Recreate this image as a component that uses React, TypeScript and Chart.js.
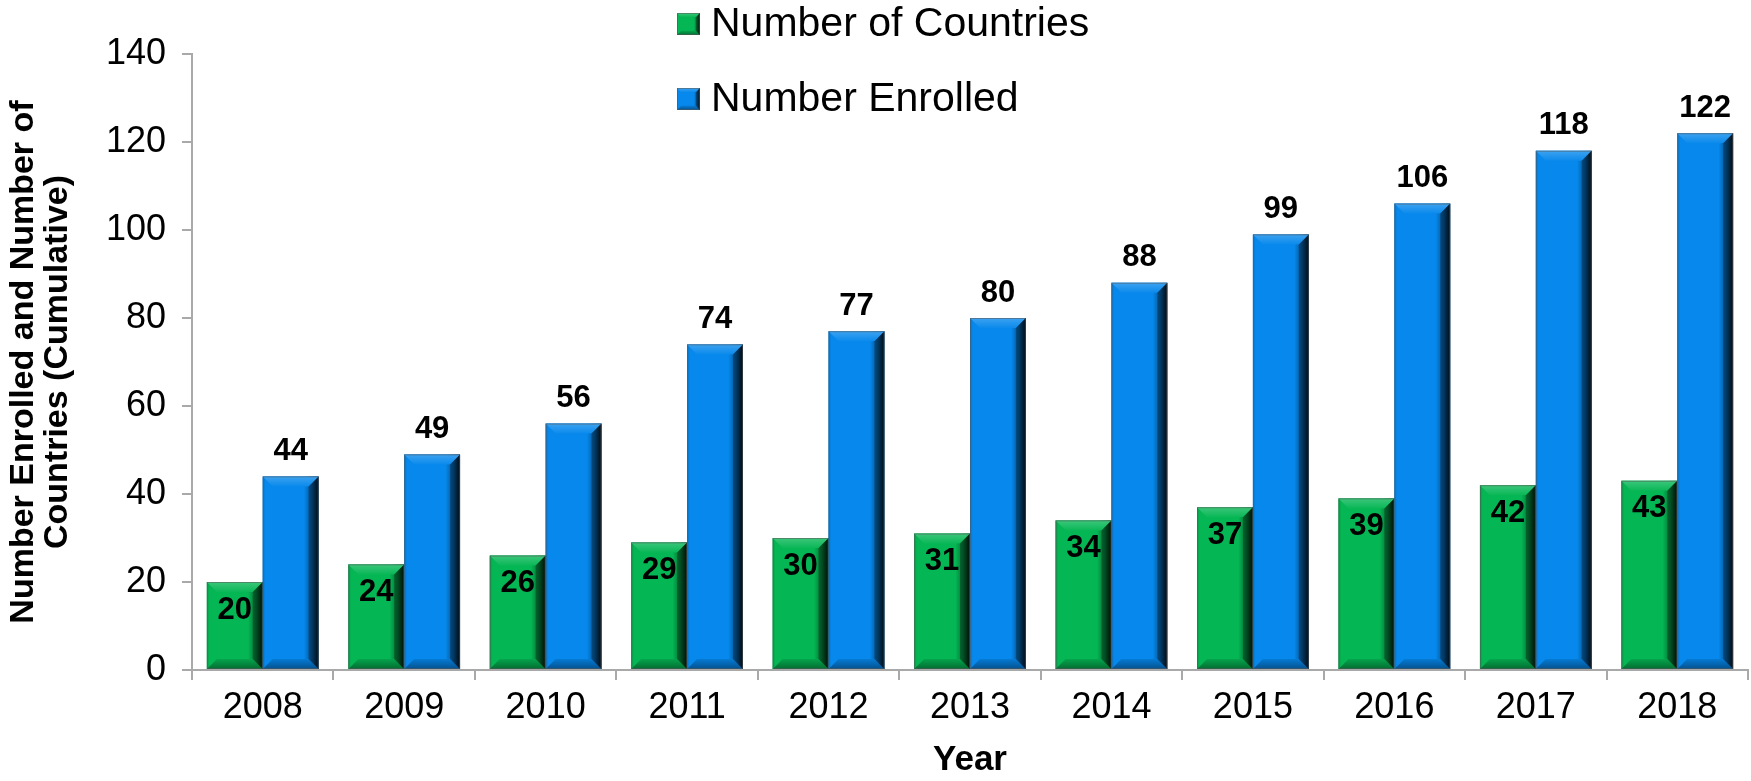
import React, { useEffect, useRef } from 'react';
import { Chart, registerables } from 'chart.js';

Chart.register(...registerables);

const years = ['2008', '2009', '2010', '2011', '2012', '2013', '2014', '2015', '2016', '2017', '2018'];
const numberOfCountries = [20, 24, 26, 29, 30, 31, 34, 37, 39, 42, 43];
const numberEnrolled = [44, 49, 56, 74, 77, 80, 88, 99, 106, 118, 122];
const seriesNames = ['Number of Countries', 'Number Enrolled'];
const yAxisTitle = ['Number Enrolled and Number of', 'Countries (Cumulative)'];
const xAxisTitle = 'Year';
const yMax = 140;
const yStep = 20;

const GREEN: [number, number, number] = [5, 182, 84];
const BLUE: [number, number, number] = [6, 136, 236];
const FONT = '"Liberation Sans", Arial, sans-serif';

function rgb(c: number[], f = 1): string {
  const m = (v: number) => Math.max(0, Math.min(255, Math.round(v)));
  if (f <= 1) return `rgb(${m(c[0] * f)},${m(c[1] * f)},${m(c[2] * f)})`;
  const t = f - 1;
  return `rgb(${m(c[0] + (255 - c[0]) * t)},${m(c[1] + (255 - c[1]) * t)},${m(c[2] + (255 - c[2]) * t)})`;
}

function drawBevelBar(ctx: CanvasRenderingContext2D, x0: number, x1: number, yTop: number, yBot: number, base: number[], bevel = 10) {
  const w = x1 - x0;
  const h = yBot - yTop;
  if (h <= 0) return;
  const b = Math.min(bevel, w * 0.18, h / 2);
  ctx.save();
  const g = ctx.createLinearGradient(x0, 0, x1, 0);
  g.addColorStop(0, rgb(base, 0.85));
  g.addColorStop(0.05, rgb(base));
  g.addColorStop(0.74, rgb(base));
  g.addColorStop(0.88, rgb(base, 0.62));
  g.addColorStop(1, rgb(base, 0.12));
  ctx.fillStyle = g;
  ctx.fillRect(x0, yTop, w, h);
  // top bevel
  const gt = ctx.createLinearGradient(0, yTop, 0, yTop + b);
  gt.addColorStop(0, rgb(base, 1.22));
  gt.addColorStop(0.5, rgb(base, 1.12));
  gt.addColorStop(1, rgb(base, 1.02));
  ctx.fillStyle = gt;
  ctx.beginPath();
  ctx.moveTo(x0, yTop);
  ctx.lineTo(x1, yTop);
  ctx.lineTo(x1 - b, yTop + b);
  ctx.lineTo(x0 + b, yTop + b);
  ctx.closePath();
  ctx.fill();
  // bottom bevel
  const gb = ctx.createLinearGradient(0, yBot - b, 0, yBot);
  gb.addColorStop(0, rgb(base, 0.9));
  gb.addColorStop(1, rgb(base, 0.6));
  ctx.fillStyle = gb;
  ctx.beginPath();
  ctx.moveTo(x0, yBot);
  ctx.lineTo(x1, yBot);
  ctx.lineTo(x1 - b, yBot - b);
  ctx.lineTo(x0 + b, yBot - b);
  ctx.closePath();
  ctx.fill();
  // right bevel
  ctx.fillStyle = 'rgba(0,0,0,0.3)';
  ctx.beginPath();
  ctx.moveTo(x1, yTop);
  ctx.lineTo(x1, yBot);
  ctx.lineTo(x1 - b, yBot - b);
  ctx.lineTo(x1 - b, yTop + b);
  ctx.closePath();
  ctx.fill();
  ctx.strokeStyle = 'rgba(90,90,90,0.55)';
  ctx.lineWidth = 1;
  ctx.strokeRect(x0 + 0.5, yTop + 0.5, w - 1, h - 1);
  ctx.restore();
}

const bevelPlugin = {
  id: 'bevelBars',
  afterDatasetsDraw(chart: any) {
    const ctx: CanvasRenderingContext2D = chart.ctx;
    const bases = [GREEN, BLUE];
    chart.data.datasets.forEach((ds: any, di: number) => {
      const meta = chart.getDatasetMeta(di);
      meta.data.forEach((el: any) => {
        const p = el.getProps(['x', 'y', 'base', 'width'], true);
        drawBevelBar(ctx, p.x - p.width / 2, p.x + p.width / 2, p.y, p.base, bases[di]);
      });
    });
    ctx.save();
    ctx.fillStyle = '#000';
    ctx.textAlign = 'center';
    ctx.textBaseline = 'middle';
    ctx.font = `bold 31px ${FONT}`;
    chart.data.datasets.forEach((ds: any, di: number) => {
      const meta = chart.getDatasetMeta(di);
      meta.data.forEach((el: any, i: number) => {
        const p = el.getProps(['x', 'y'], true);
        const v = ds.data[i];
        const y = di === 0 ? p.y + 28 : p.y - 25;
        ctx.fillText(String(v), p.x, y);
      });
    });
    ctx.restore();
  },
  afterDraw(chart: any) {
    const ctx: CanvasRenderingContext2D = chart.ctx;
    const bases = [GREEN, BLUE];
    const rows = [24, 99];
    ctx.save();
    ctx.font = `41px ${FONT}`;
    ctx.textBaseline = 'middle';
    ctx.textAlign = 'left';
    seriesNames.forEach((name, i) => {
      const cy = rows[i];
      drawBevelBar(ctx, 677, 700, cy - 11, cy + 11, bases[i], 6);
      ctx.fillStyle = '#000';
      ctx.fillText(name, 711, cy + 1);
    });
    ctx.restore();
  },
};

export default function App() {
  const ref = useRef<HTMLCanvasElement>(null);
  useEffect(() => {
    document.body.style.margin = '0';
    if (!ref.current) return;
    const axisColor = '#A9A9A9';
    const chart = new Chart(ref.current, {
      type: 'bar',
      data: {
        labels: years,
        datasets: [
          { label: seriesNames[0], data: numberOfCountries, backgroundColor: rgb(GREEN), categoryPercentage: 0.79, barPercentage: 1 },
          { label: seriesNames[1], data: numberEnrolled, backgroundColor: rgb(BLUE), categoryPercentage: 0.79, barPercentage: 1 },
        ],
      },
      options: {
        responsive: true,
        maintainAspectRatio: false,
        animation: false,
        layout: { padding: { top: 54, right: 3, left: 0, bottom: 0 } },
        plugins: { legend: { display: false }, tooltip: { enabled: false } },
        scales: {
          x: {
            grid: { display: true, drawOnChartArea: false, drawTicks: true, tickLength: 10, color: axisColor, lineWidth: 2, offset: true },
            border: { color: axisColor, width: 2 },
            ticks: { color: '#000', font: { family: FONT, size: 36 }, padding: 6, maxRotation: 0 },
            title: { display: true, text: xAxisTitle, color: '#000', font: { family: FONT, size: 35, weight: 'bold' }, padding: { top: 0, bottom: 0 } },
            afterFit: (s: any) => { s.height = 111; },
          },
          y: {
            min: 0,
            max: yMax,
            ticks: { stepSize: yStep, color: '#000', font: { family: FONT, size: 36 }, padding: 16 },
            grid: { display: true, drawOnChartArea: false, drawTicks: true, tickLength: 10, color: axisColor, lineWidth: 2 },
            border: { color: axisColor, width: 2 },
            title: { display: true, text: yAxisTitle, color: '#000', font: { family: FONT, size: 34, weight: 'bold', lineHeight: 1.0 }, padding: { top: 7, bottom: 0 } },
            afterFit: (s: any) => { s.width = 192; },
          },
        },
      },
      plugins: [bevelPlugin],
    } as any);
    return () => chart.destroy();
  }, []);
  return (
    <div style={{ position: 'relative', width: '1751px', height: '781px' }}>
      <canvas ref={ref} />
    </div>
  );
}
